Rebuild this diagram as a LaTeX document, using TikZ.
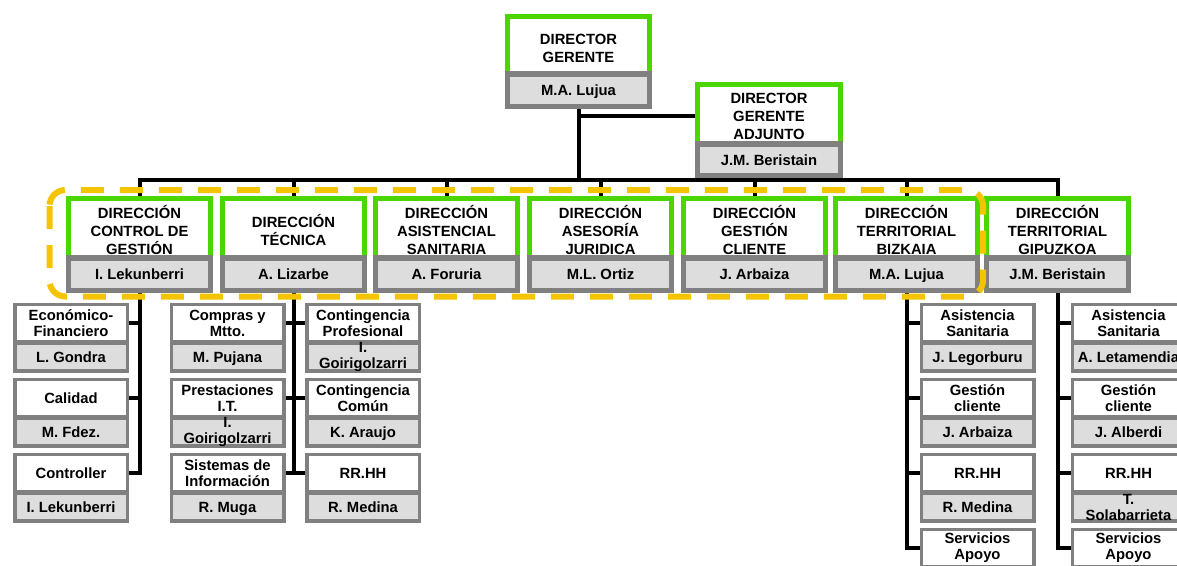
\documentclass[tikz,border=0pt]{standalone}
\usepackage{fontspec}
\setmainfont{Liberation Sans}
\definecolor{cgreen}{RGB}{76,214,0}
\definecolor{cgrayb}{RGB}{128,128,128}
\definecolor{cgrayf}{RGB}{221,221,221}
\definecolor{cyellow}{RGB}{245,196,0}
\tikzset{
 topt/.style={draw=cgreen, line width=5pt, fill=white, minimum width=142pt, minimum height=63pt, inner sep=0pt, align=center, font=\bfseries\fontsize{14.8}{18}\selectfont},
 topn/.style={draw=cgrayb, line width=5.5pt, fill=cgrayf, minimum width=142pt, minimum height=32.5pt, inner sep=0pt, text height=12pt, text depth=0.2pt, font=\bfseries\fontsize{14.8}{18}\selectfont},
 subt/.style={draw=cgrayb, line width=3.5pt, fill=white, minimum width=112.5pt, minimum height=37pt, inner sep=0pt, align=center, font=\bfseries\fontsize{14.8}{16}\selectfont},
 subn/.style={draw=cgrayb, line width=3.5pt, fill=cgrayf, minimum width=112.5pt, minimum height=27.5pt, inner sep=0pt},
 subtx/.style={inner sep=0pt, align=center, font=\bfseries\fontsize{14.8}{16}\selectfont},
 nm/.style={text height=12pt, text depth=0.2pt},
 conn/.style={draw=black, line width=4pt},
 zone/.style={draw=cyellow, line width=6pt, dash pattern=on 23pt off 16pt, rounded corners=16pt},
}
\newcommand{\subcard}[6][nm]{%
  \node[subt] (#2t) at (#3,#4+20) {#5};
  \node[subn] (#2n) at (#3,#4+54) {};
  \node[subtx,#1] (#2x) at (#2n) {#6};
}
\begin{document}
\begin{tikzpicture}[x=1pt,y=-1pt]
\useasboundingbox (0,0) rectangle (1177,565);
\clip (0,0) rectangle (1177,565);

% top
\node[topt] (dgt) at (578.5,48) {DIRECTOR\\GERENTE};
\node[topn] (dgn) at (578.5,90) {M.A. Lujua};
\node[topt, minimum width=143pt] (adt) at (769,116) {DIRECTOR\\GERENTE\\ADJUNTO};
\node[topn, minimum width=143pt, minimum height=31.5pt] (adn) at (769,159.5) {J.M. Beristain};

% directions
\node[topt] (d1t) at (139.5,230) {DIRECCIÓN\\CONTROL DE\\GESTIÓN};
\node[topn] (d1n) at (139.5,274) {I. Lekunberri};
\node[topt] (d2t) at (293.5,230) {DIRECCIÓN\\TÉCNICA};
\node[topn] (d2n) at (293.5,274) {A. Lizarbe};
\node[topt] (d3t) at (446.5,230) {DIRECCIÓN\\ASISTENCIAL\\SANITARIA};
\node[topn] (d3n) at (446.5,274) {A. Foruria};
\node[topt] (d4t) at (600.5,230) {DIRECCIÓN\\ASESORÍA\\JURIDICA};
\node[topn] (d4n) at (600.5,274) {M.L. Ortiz};
\node[topt] (d5t) at (754.5,230) {DIRECCIÓN\\GESTIÓN\\CLIENTE};
\node[topn] (d5n) at (754.5,274) {J. Arbaiza};
\node[topt] (d6t) at (906.5,230) {DIRECCIÓN\\TERRITORIAL\\BIZKAIA};
\node[topn] (d6n) at (906.5,274) {M.A. Lujua};
\node[topt] (d7t) at (1057.5,230) {DIRECCIÓN\\TERRITORIAL\\GIPUZKOA};
\node[topn] (d7n) at (1057.5,274) {J.M. Beristain};

% sub cards
\subcard{c1}{71}{303}{Económico-\\Financiero}{L. Gondra}
\subcard{c2}{71}{378}{Calidad}{M. Fdez.}
\subcard{c3}{71}{453}{Controller}{I. Lekunberri}
\subcard{t1}{227.5}{303}{Compras y\\Mtto.}{M. Pujana}
\subcard[]{t2}{227.5}{378}{Prestaciones\\I.T.}{I.\\Goirigolzarri}
\subcard{t3}{227.5}{453}{Sistemas de\\Información}{R. Muga}
\subcard[]{u1}{363}{303}{Contingencia\\Profesional}{I.\\Goirigolzarri}
\subcard{u2}{363}{378}{Contingencia\\Común}{K. Araujo}
\subcard{u3}{363}{453}{RR.HH}{R. Medina}
\subcard{b1}{977.5}{303}{Asistencia\\Sanitaria}{J. Legorburu}
\subcard{b2}{977.5}{378}{Gestión\\cliente}{J. Arbaiza}
\subcard{b3}{977.5}{453}{RR.HH}{R. Medina}
\node[subt] (b4t) at (977.5,548) {Servicios\\Apoyo};
\subcard{g1}{1128.5}{303}{Asistencia\\Sanitaria}{A. Letamendia}
\subcard{g2}{1128.5}{378}{Gestión\\cliente}{J. Alberdi}
\subcard[]{g3}{1128.5}{453}{RR.HH}{T.\\Solabarrieta}
\node[subt] (g4t) at (1128.5,548) {Servicios\\Apoyo};

% connectors top
\coordinate (busy) at (0,180);
\draw[conn] (d1t.north) -- (d1t.north |- busy) -- (d7t.north |- busy) -- (d7t.north);
\foreach \k in {2,...,6} \draw[conn] (d\k t.north) -- (d\k t.north |- busy);
\draw[conn] (dgn.south) -- (dgn.south |- busy);
\draw[conn] (adt.west) -- (adt.west -| dgn.south);

% control
\draw[conn] (d1n.south) |- (c3t.east);
\draw[conn] (c1t.east) -- (c1t.east -| d1n.south);
\draw[conn] (c2t.east) -- (c2t.east -| d1n.south);
% tecnica
\draw[conn] (d2n.south) -- (d2n.south |- t3t.east);
\draw[conn] (t1t.east) -- (u1t.west);
\draw[conn] (t2t.east) -- (u2t.west);
\draw[conn] (t3t.east) -- (u3t.west);
% bizkaia
\draw[conn] (d6n.south) |- (b4t.west);
\draw[conn] (b1t.west) -- (b1t.west -| d6n.south);
\draw[conn] (b2t.west) -- (b2t.west -| d6n.south);
\draw[conn] (b3t.west) -- (b3t.west -| d6n.south);
% gipuzkoa
\draw[conn] (d7n.south) |- (g4t.west);
\draw[conn] (g1t.west) -- (g1t.west -| d7n.south);
\draw[conn] (g2t.west) -- (g2t.west -| d7n.south);
\draw[conn] (g3t.west) -- (g3t.west -| d7n.south);

% highlighted zone
\draw[zone] (49.5,190) rectangle (983,296.5);
\end{tikzpicture}
\end{document}
